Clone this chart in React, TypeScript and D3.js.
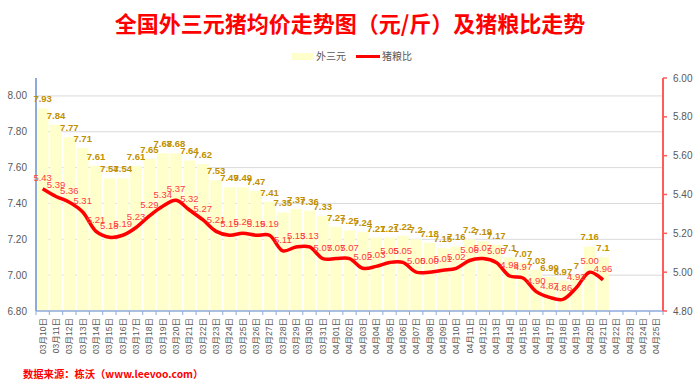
// 全国外三元猪均价走势 + 猪粮比 combo chart (bars + smoothed line, dual axis)

import * as d3 from "d3";

const dates = [
  "03月10日", "03月11日", "03月12日", "03月13日", "03月14日", "03月15日", "03月16日",
  "03月17日", "03月18日", "03月19日", "03月20日", "03月21日", "03月22日", "03月23日",
  "03月24日", "03月25日", "03月26日", "03月27日", "03月28日", "03月29日", "03月30日",
  "03月31日", "04月01日", "04月02日", "04月03日", "04月04日", "04月05日", "04月06日",
  "04月07日", "04月08日", "04月09日", "04月10日", "04月11日", "04月12日", "04月13日",
  "04月14日", "04月15日", "04月16日", "04月17日", "04月18日", "04月19日", "04月20日",
  "04月21日", "04月22日", "04月23日", "04月24日", "04月25日",
];

// 外三元 price (元/斤)
const pigPrice = [
  7.93, 7.84, 7.77, 7.71, 7.61, 7.54, 7.54, 7.61, 7.65, 7.68, 7.68, 7.64, 7.62, 7.53,
  7.49, 7.49, 7.47, 7.41, 7.35, 7.37, 7.36, 7.33, 7.27, 7.25, 7.24, 7.21, 7.21, 7.22,
  7.2, 7.18, 7.15, 7.16, 7.2, 7.19, 7.17, 7.1, 7.07, 7.03, 6.99, 6.97, 7, 7.16, 7.1,
];

// 猪粮比
const ratio = [
  5.43, 5.39, 5.36, 5.31, 5.21, 5.18, 5.19, 5.23, 5.29, 5.34, 5.37, 5.32, 5.27, 5.21,
  5.19, 5.2, 5.19, 5.19, 5.11, 5.13, 5.13, 5.07, 5.07, 5.07, 5.02, 5.03, 5.05, 5.05,
  5.0, 5.0, 5.01, 5.02, 5.06, 5.07, 5.05, 4.98, 4.97, 4.9, 4.87, 4.86, 4.92, 5.0, 4.96,
];

const leftTicks = [6.8, 7.0, 7.2, 7.4, 7.6, 7.8, 8.0];
const rightTicks = [4.8, 5.0, 5.2, 5.4, 5.6, 5.8, 6.0];

const title = "全国外三元猪均价走势图（元/斤）及猪粮比走势";
const source = "数据来源：栋沃（www.leevoo.com）";

const width = 700;
const height = 388;
const [marginTop, marginRight, marginBottom, marginLeft] = [78, 37, 77, 36];
const font = "'Liberation Sans', 'Noto Sans CJK SC', sans-serif";
const cjk = "'Noto Sans CJK SC', sans-serif";

export default function App() {
  const x = d3
    .scaleBand(dates, [marginLeft, width - marginRight])
    .paddingInner(0.12)
    .paddingOuter(0.06);
  const yL = d3.scaleLinear([6.8, 8.1], [height - marginBottom, marginTop]);
  const yR = d3.scaleLinear([4.8, 6.0], [height - marginBottom, marginTop]);
  const cx = (i: number) => x(dates[i])! + x.bandwidth() / 2;
  const step = x.step();
  const x0 = marginLeft;
  const x1 = width - marginRight;
  const yb = height - marginBottom;

  const line = d3
    .line<number>((d, i) => cx(i), yR)
    .curve(d3.curveCatmullRom.alpha(0.5));

  return (
    <svg
      width={width}
      height={height}
      style={{ position: "absolute", left: 0, top: 0, background: "#fff" }}
    >
      <title>{title}</title>
      <text
        x={350}
        y={32}
        textAnchor="middle"
        fontFamily={cjk}
        fontWeight="bold"
        fontSize={22}
        fill="#ff0000"
      >
        {title}
      </text>

      {/* legend */}
      <g fontFamily={cjk} fontSize={10} fill="#595959">
        <rect x={292} y={53} width={21} height={7} fill="#ffffcc" />
        <text x={316} y={60}>外三元</text>
        <line x1={356} x2={380} y1={56.5} y2={56.5} stroke="#ff0000" strokeWidth={3} />
        <text x={382} y={60}>猪粮比</text>
      </g>

      {/* gridlines */}
      <g stroke="#d9d9d9" strokeWidth={1}>
        {leftTicks.slice(1).map((t) => (
          <line key={t} x1={x0} x2={x1} y1={yL(t)} y2={yL(t)} />
        ))}
      </g>

      {/* bars */}
      <g fill="#ffffcc">
        {pigPrice.map((d, i) => (
          <rect
            key={dates[i]}
            x={x(dates[i])}
            y={yL(d)}
            width={x.bandwidth()}
            height={yb - yL(d)}
          />
        ))}
      </g>

      {/* axes */}
      <line x1={x0} x2={x1} y1={yb} y2={yb} stroke="#8eaadb" strokeWidth={1.5} />
      <g stroke="#8eaadb" strokeWidth={1}>
        {d3.range(dates.length + 1).map((i) => (
          <line key={i} x1={x0 + i * step} x2={x0 + i * step} y1={yb} y2={yb + 4} />
        ))}
      </g>
      <line x1={x0} x2={x0} y1={marginTop} y2={yb} stroke="#8eaadb" strokeWidth={2} />
      <line x1={x1} x2={x1} y1={marginTop} y2={yb} stroke="#ff5b5b" strokeWidth={2} />
      <g stroke="#ff5b5b" strokeWidth={1.5}>
        {rightTicks.map((t) => (
          <line key={t} x1={x1} x2={x1 + 4} y1={yR(t)} y2={yR(t)} />
        ))}
      </g>

      <g fontFamily={font} fontSize={10} fill="#595959">
        {leftTicks.map((t) => (
          <text key={t} x={27} y={yL(t)} dy="0.35em" textAnchor="end">
            {d3.format(".2f")(t)}
          </text>
        ))}
        {rightTicks.map((t) => (
          <text key={t} x={673} y={yR(t)} dy="0.35em">
            {d3.format(".2f")(t)}
          </text>
        ))}
      </g>

      <g fontFamily={font} fontSize={8.5} fill="#595959">
        {dates.map((d, i) => (
          <text
            key={d}
            transform={`translate(${cx(i)}, ${yb + 7}) rotate(-90)`}
            dy="0.35em"
            textAnchor="end"
          >
            {d}
          </text>
        ))}
      </g>

      {/* ratio line */}
      <path d={line(ratio)!} fill="none" stroke="#ff0000" strokeWidth={3.5} />

      {/* data labels */}
      <g fontFamily={font} fontSize={9.5} fontWeight="bold" fill="#bf9000" textAnchor="middle">
        {pigPrice.map((d, i) => (
          <text key={dates[i]} x={cx(i)} y={yL(d) - 6}>
            {d3.format("")(d)}
          </text>
        ))}
      </g>
      <g fontFamily={font} fontSize={9.5} fill="#ff3b3b" textAnchor="middle">
        {ratio.map((d, i) => (
          <text key={dates[i]} x={cx(i)} y={yR(d) - 8}>
            {d3.format(".2f")(d)}
          </text>
        ))}
      </g>

      <text
        x={23}
        y={378}
        fontFamily={cjk}
        fontWeight="bold"
        fontSize={10.3}
        fill="#ff0000"
      >
        {source}
      </text>
    </svg>
  );
}
